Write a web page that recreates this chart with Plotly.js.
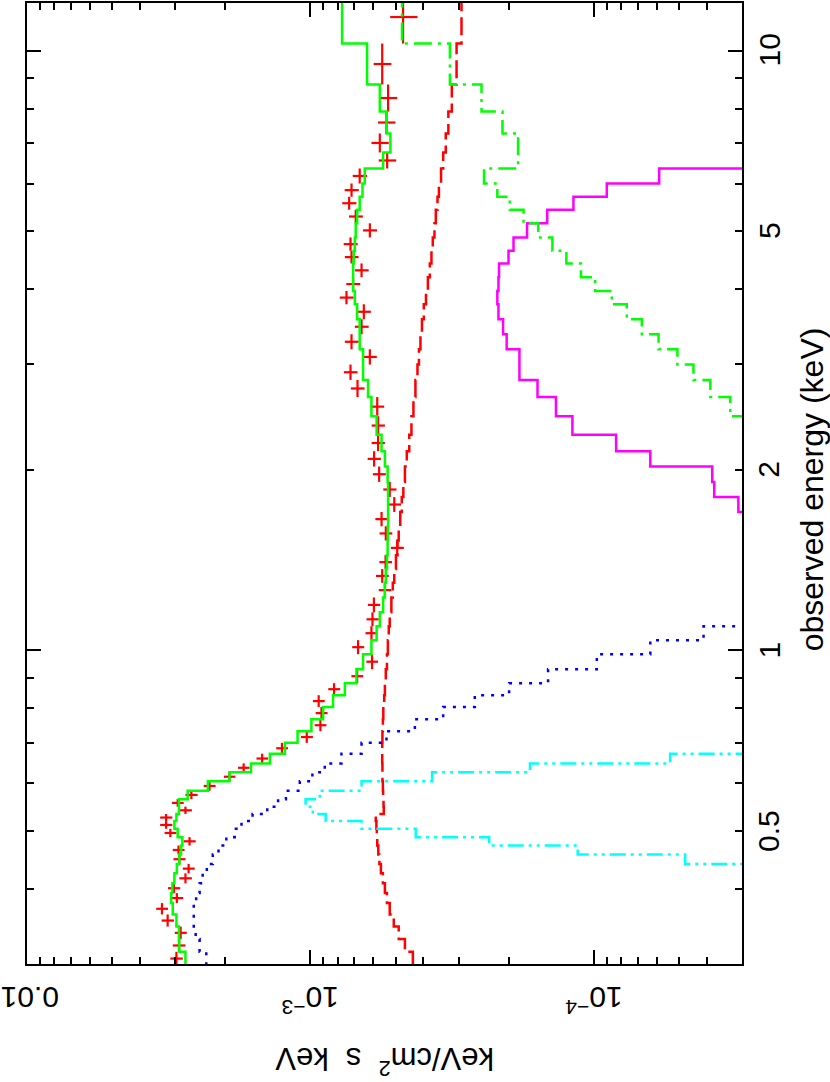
<!DOCTYPE html>
<html><head><meta charset="utf-8">
<script src="https://cdn.plot.ly/plotly-3.0.1.min.js"></script>
<style>body{margin:0;background:#fff}#chart{width:830px;height:1082px}</style>
</head><body><div id="chart"></div>
<script>
// Energy bin edges (keV), shared by data and model histograms
const binEdgesKeV = [0.2985,0.3143,0.3301,0.3463,0.3628,0.3790,0.3938,0.4089,0.4249,0.4405,0.4568,0.4728,0.4882,0.5041,0.5192,0.5336,0.5488,0.5648,0.5835,0.6051,0.6264,0.6480,0.6726,0.7011,0.7332,0.7677,0.8045,0.8418,0.8816,0.9302,0.9853,1.040,1.097,1.157,1.225,1.296,1.366,1.441,1.524,1.610,1.701,1.801,1.909,2.025,2.148,2.287,2.456,2.644,2.824,2.995,3.176,3.365,3.564,3.775,3.974,4.188,4.416,4.635,4.879,5.151,5.428,5.703,6.002,6.358,6.761,7.272,7.910,8.776,10.27,12.59];

// Data (keV/cm^2 s keV)
const dataFlux = [2.97e-3,2.91e-3,2.87e-3,3.19e-3,3.34e-3,2.96e-3,3.03e-3,2.76e-3,2.69e-3,2.90e-3,
2.92e-3,2.67e-3,3.12e-3,3.23e-3,3.23e-3,2.76e-3,2.94e-3,2.63e-3,2.27e-3,1.93e-3,
1.72e-3,1.48e-3,1.26e-3,1.03e-3,9.22e-4,9.14e-4,9.35e-4,8.25e-4,6.84e-4,6.06e-4,
6.79e-4,6.09e-4,6.04e-4,5.97e-4,5.46e-4,5.58e-4,5.43e-4,4.94e-4,5.42e-4,5.61e-4,
5.06e-4,5.25e-4,5.72e-4,5.96e-4,5.77e-4,5.77e-4,5.81e-4,6.82e-4,7.22e-4,6.17e-4,
7.16e-4,6.60e-4,6.48e-4,7.46e-4,7.07e-4,6.60e-4,7.16e-4,7.22e-4,6.17e-4,6.92e-4,
7.30e-4,7.16e-4,6.70e-4,5.36e-4,5.69e-4,5.39e-4,5.32e-4,5.58e-4,4.71e-4];
const dataErr = [1.5e-4,1.5e-4,1.4e-4,1.6e-4,1.6e-4,1.5e-4,1.5e-4,1.4e-4,1.3e-4,1.4e-4,
1.4e-4,1.3e-4,1.5e-4,1.6e-4,1.6e-4,1.4e-4,1.4e-4,1.3e-4,1.1e-4,9.0e-5,
8.0e-5,7.0e-5,6.0e-5,5.0e-5,4.4e-5,4.4e-5,4.5e-5,4.0e-5,3.3e-5,2.9e-5,
3.3e-5,3.0e-5,3.0e-5,3.0e-5,2.8e-5,2.9e-5,2.8e-5,2.6e-5,2.8e-5,2.9e-5,
2.7e-5,2.8e-5,3.0e-5,3.2e-5,3.1e-5,3.1e-5,3.2e-5,3.8e-5,4.0e-5,3.4e-5,
4.0e-5,3.7e-5,3.6e-5,4.2e-5,4.0e-5,3.7e-5,4.0e-5,4.1e-5,3.5e-5,3.9e-5,
4.2e-5,4.1e-5,3.9e-5,3.8e-5,4.0e-5,3.8e-5,3.8e-5,4.0e-5,5.2e-5];

// Total model (green solid), one value per bin
const totalModel = [2.76e-3,2.90e-3,2.91e-3,2.97e-3,3.06e-3,3.10e-3,3.07e-3,3.02e-3,2.96e-3,2.90e-3,
2.86e-3,2.83e-3,2.94e-3,3.02e-3,2.97e-3,2.91e-3,2.91e-3,2.71e-3,2.30e-3,1.93e-3,
1.62e-3,1.39e-3,1.23e-3,1.11e-3,9.92e-4,9.02e-4,8.32e-4,7.56e-4,6.88e-4,6.52e-4,
6.09e-4,5.84e-4,5.69e-4,5.54e-4,5.46e-4,5.42e-4,5.37e-4,5.34e-4,5.33e-4,5.32e-4,
5.32e-4,5.32e-4,5.34e-4,5.46e-4,5.61e-4,5.84e-4,6.09e-4,6.26e-4,6.52e-4,6.52e-4,
6.70e-4,6.70e-4,6.84e-4,6.97e-4,7.07e-4,7.07e-4,7.03e-4,6.97e-4,6.92e-4,6.84e-4,
6.70e-4,6.55e-4,6.43e-4,5.54e-4,5.22e-4,5.39e-4,5.69e-4,6.31e-4,7.73e-4];

// Power law (red dashed), from bin 0
const powerLaw = [4.35e-4,4.64e-4,4.88e-4,5.08e-4,5.25e-4,5.37e-4,5.46e-4,5.55e-4,5.64e-4,5.71e-4,
5.76e-4,5.81e-4,5.83e-4,5.85e-4,5.88e-4,5.51e-4,5.52e-4,5.54e-4,5.55e-4,5.57e-4,
5.57e-4,5.58e-4,5.58e-4,5.57e-4,5.55e-4,5.53e-4,5.49e-4,5.46e-4,5.42e-4,5.37e-4,
5.33e-4,5.29e-4,5.25e-4,5.18e-4,5.12e-4,5.06e-4,4.99e-4,4.93e-4,4.88e-4,4.82e-4,
4.76e-4,4.70e-4,4.64e-4,4.57e-4,4.48e-4,4.40e-4,4.33e-4,4.26e-4,4.19e-4,4.14e-4,
4.09e-4,4.04e-4,3.98e-4,3.91e-4,3.85e-4,3.79e-4,3.74e-4,3.70e-4,3.65e-4,3.61e-4,
3.56e-4,3.52e-4,3.46e-4,3.40e-4,3.33e-4,3.26e-4,3.17e-4,3.05e-4,2.93e-4];
const powerLawStart = 0;

// Soft component (blue dotted), from bin 0
const softComp = [2.33e-3,2.46e-3,2.54e-3,2.58e-3,2.58e-3,2.53e-3,2.46e-3,2.40e-3,2.32e-3,2.21e-3,
2.11e-3,1.98e-3,1.85e-3,1.75e-3,1.60e-3,1.42e-3,1.30e-3,1.22e-3,1.09e-3,9.84e-4,
8.90e-4,7.77e-4,6.60e-4,5.39e-4,4.28e-4,3.40e-4,2.63e-4,1.99e-4,1.45e-4,9.76e-5,
6.32e-5,4.10e-5,2.60e-5];
const softStart = 0;

// Soft line (cyan dash-dot-dot), from bin 8
const softLine = [2.0e-5,4.76e-5,1.14e-4,2.34e-4,4.25e-4,6.60e-4,8.83e-4,9.81e-4,1.04e-3,9.27e-4,6.60e-4,3.72e-4,1.68e-4,5.38e-5,1.5e-5];
const softLineStart = 8;

// Broad line (magenta solid), from bin 39
const broadLine = [2.5e-5,3.09e-5,3.76e-5,3.82e-5,6.32e-5,8.34e-5,1.19e-4,1.36e-4,1.58e-4,1.83e-4,1.83e-4,
2.03e-4,2.09e-4,2.17e-4,2.19e-4,2.17e-4,2.16e-4,2.00e-4,1.92e-4,1.72e-4,1.46e-4,
1.18e-4,9.00e-5,5.88e-5,2.5e-5];
const broadLineStart = 39;

// Hard component (green dash-dot), from bin 45
const hardComp = [2.5e-5,3.30e-5,3.88e-5,4.45e-5,5.07e-5,5.91e-5,6.77e-5,7.65e-5,8.64e-5,9.89e-5,
1.11e-4,1.25e-4,1.40e-4,1.57e-4,1.77e-4,1.98e-4,2.19e-4,2.44e-4,1.85e-4,1.85e-4,
2.10e-4,2.49e-4,3.22e-4,4.75e-4];
const hardStart = 45;

// Axes
const fluxRange = [0.01, 3e-5];
const energyRange = [0.3, 12];
const fluxMajorTicks = [1e-4, 1e-3, 1e-2];
const fluxTickLabels = ['10<sup>\u22124</sup>', '10<sup>\u22123</sup>', '0.01'];
const fluxMinorTicks = [4e-5,5e-5,6e-5,7e-5,8e-5,9e-5,2e-4,3e-4,4e-4,5e-4,6e-4,7e-4,8e-4,9e-4,2e-3,3e-3,4e-3,5e-3,6e-3,7e-3,8e-3,9e-3];
const energyMajorTicks = [1, 10];
const energyMinorTicks = [0.4,0.5,0.6,0.7,0.8,0.9,2,3,4,5,6,7,8,9];
const energyLabelVals = [0.5, 1, 2, 5, 10];
const energyLabels = ['0.5', '1', '2', '5', '10'];
const xTitle = 'keV/cm<sup>2</sup>\u00a0\u00a0s\u00a0\u00a0keV';
const yTitle = 'observed energy (keV)';

function stepTrace(values, start, color, dash) {
  const x = [], y = [];
  for (let i = 0; i < values.length; i++) { x.push(values[i]); y.push(binEdgesKeV[start + i]); }
  x.push(values[values.length - 1]); y.push(binEdgesKeV[start + values.length]);
  return {type: 'scatter', mode: 'lines', x: x, y: y,
          line: {shape: 'vh', color: color, width: 2.5, dash: dash},
          hoverinfo: 'skip', showlegend: false};
}

const ec = [], ePlus = [], eMinus = [];
for (let i = 0; i < dataFlux.length; i++) {
  const lo = binEdgesKeV[i], hi = binEdgesKeV[i + 1];
  const c = Math.sqrt(lo * hi);
  ec.push(c); ePlus.push(hi - c); eMinus.push(c - lo);
}

const dataTrace = {
  type: 'scatter', mode: 'markers', x: dataFlux, y: ec,
  marker: {size: 2, color: '#ff0000'},
  error_x: {type: 'data', array: dataErr, color: '#ff0000', thickness: 2.2, width: 0},
  error_y: {type: 'data', symmetric: false, array: ePlus, arrayminus: eMinus, color: '#ff0000', thickness: 2.2, width: 0},
  hoverinfo: 'skip', showlegend: false
};

const traces = [
  dataTrace,
  stepTrace(totalModel, 0, '#00ff00', 'solid'),
  stepTrace(powerLaw, powerLawStart, '#ff0000', '18px,6px'),
  stepTrace(softComp, softStart, '#0000ff', '3px,7px'),
  stepTrace(softLine, softLineStart, '#00ffff', '16px,5px,3px,5px,3px,5px'),
  stepTrace(broadLine, broadLineStart, '#ff00ff', 'solid'),
  stepTrace(hardComp, hardStart, '#00ff00', '18px,6px,3px,6px')
];

const fontFam = 'Liberation Sans, Arial, sans-serif';
const annotations = [];
fluxMajorTicks.forEach((v, i) => {
  annotations.push({x: Math.log10(v), xref: 'x', y: i === 2 ? -0.0349 : -0.038, yref: 'paper',
    xshift: i === 2 ? 3 : 0,
    text: fluxTickLabels[i], textangle: 180, showarrow: false, xanchor: 'center', yanchor: 'middle',
    font: {family: fontFam, size: 30, color: '#000'}});
});
energyLabelVals.forEach((v, i) => {
  annotations.push({x: 1.0378, xref: 'paper', y: Math.log10(v), yref: 'y',
    text: energyLabels[i], textangle: -90, showarrow: false, xanchor: 'center', yanchor: 'middle',
    font: {family: fontFam, size: 30, color: '#000'}});
});
annotations.push({x: 1.098, xref: 'paper', y: 0.494, yref: 'paper', text: yTitle, textangle: -90,
  showarrow: false, xanchor: 'center', yanchor: 'middle', font: {family: fontFam, size: 32, color: '#000'}});
annotations.push({x: 0.5, xref: 'paper', y: -0.101, yref: 'paper', text: xTitle, textangle: 180,
  showarrow: false, xanchor: 'center', yanchor: 'middle', font: {family: fontFam, size: 31, color: '#000'}});

const axisCommon = {
  type: 'log', autorange: false, showline: true, linecolor: '#000', linewidth: 2, mirror: 'ticks',
  ticks: 'inside', ticklen: 14, tickwidth: 2, tickcolor: '#000', showticklabels: false,
  showgrid: false, zeroline: false
};

const layout = {
  width: 830, height: 1082,
  margin: {l: 27, r: 88, t: 3, b: 118},
  paper_bgcolor: '#fff', plot_bgcolor: '#fff',
  showlegend: false,
  xaxis: Object.assign({}, axisCommon, {
    range: [Math.log10(fluxRange[0]), Math.log10(fluxRange[1])],
    tickmode: 'array', tickvals: fluxMajorTicks,
    minor: {ticks: 'inside', ticklen: 7, tickwidth: 2, tickcolor: '#000', tickmode: 'array', tickvals: fluxMinorTicks, showgrid: false}
  }),
  yaxis: Object.assign({}, axisCommon, {
    side: 'right',
    range: [Math.log10(energyRange[0]), Math.log10(energyRange[1])],
    tickmode: 'array', tickvals: energyMajorTicks,
    minor: {ticks: 'inside', ticklen: 7, tickwidth: 2, tickcolor: '#000', tickmode: 'array', tickvals: energyMinorTicks, showgrid: false}
  }),
  annotations: annotations
};

Plotly.newPlot('chart', traces, layout, {staticPlot: true, displayModeBar: false});
</script>
</body></html>
